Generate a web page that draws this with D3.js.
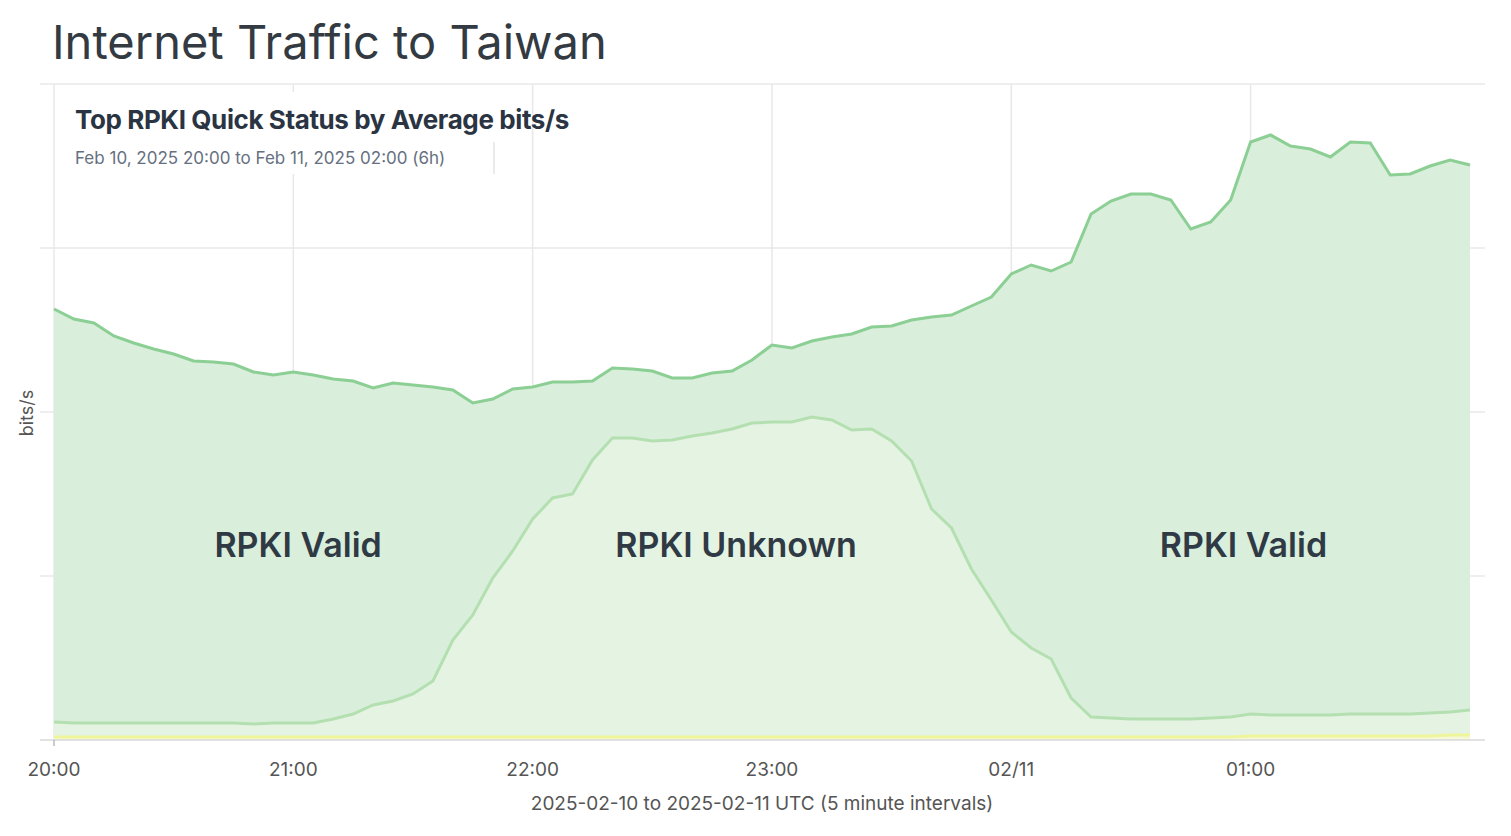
<!DOCTYPE html>
<html>
<head>
<meta charset="utf-8">
<script src="https://cdn.jsdelivr.net/npm/d3@7"></script>
<style>
  body { margin: 0; background: #fff; font-family: Inter, "Noto Sans", sans-serif; }
</style>
</head>
<body>
<div id="wrapper"></div>
<script>
// data (arbitrary bits/s units, 5 minute steps from 2025-02-10 20:00 UTC)
const startTime = new Date(Date.UTC(2025, 1, 10, 20, 0));
const totalTraffic = [431,421,417,404,397,391,386,379,378,376,368,365,368,365,361,359,352,357,355,353,
  350,337,341,351,353,358,358,359,372,371,369,362,362,367,369,380,395,392,399,403,
  406,413,414,420,423,425,434,443,466,475,469,478,526,539,546,546,540,511,518,540,
  598,605,594,591,583,598,597,565,566,574,580,575];
const notValidTraffic = [18,17,17,17,17,17,17,17,17,17,16,17,17,17,21,26,35,39,46,59,
  100,125,162,189,221,242,246,280,302,302,299,300,304,307,311,317,318,318,323,320,
  310,311,299,279,231,212,171,140,108,92,81,42,23,22,21,21,21,21,22,23,
  26,25,25,25,25,26,26,26,26,27,28,30];
const otherTraffic = [3,3,3,3,3,3,3,3,3,3,3,3,3,3,3,3,3,3,3,3,
  3,3,3,3,3,3,3,3,3,3,3,3,3,3,3,3,3,3,3,3,
  3,3,3,3,3,3,3,3,3,3,3,3,3,3,3,3,3,3,3,3,
  4,4,4,4,4,4,4,4,4,4,5,5];
const xTickLabels = ["20:00", "21:00", "22:00", "23:00", "02/11", "01:00"];
const areaLabels = [
  { text: "RPKI Valid", hour: 1.02 },
  { text: "RPKI Unknown", hour: 2.85 },
  { text: "RPKI Valid", hour: 4.97 }
];

const data = totalTraffic.map((t, i) => ({
  date: new Date(startTime.getTime() + i * 5 * 60000),
  other: otherTraffic[i],
  unknown: notValidTraffic[i] - otherTraffic[i],
  valid: t - notValidTraffic[i]
}));

// dimensions
const dms = { width: 1511, height: 836, left: 54, right: 1470, top: 84, bottom: 740 };

const svg = d3.select("#wrapper").append("svg")
  .attr("width", dms.width).attr("height", dms.height)
  .style("font-family", "Inter, 'Noto Sans', sans-serif");

// scales
const xScale = d3.scaleTime()
  .domain([data[0].date, data[data.length - 1].date])
  .range([dms.left, dms.right]);
const yScale = d3.scaleLinear().domain([0, 656]).range([dms.bottom, dms.top]);

// grid
svg.append("g").selectAll("line").data([164, 328, 492, 656]).join("line")
  .attr("x1", 40).attr("x2", 1485)
  .attr("y1", d => yScale(d)).attr("y2", d => yScale(d))
  .attr("stroke", "#e8e8e8").attr("stroke-width", 1.5);

const hourTicks = xTickLabels.map((_, i) => new Date(startTime.getTime() + i * 3600000));
svg.append("g").selectAll("line").data(hourTicks).join("line")
  .attr("x1", d => xScale(d)).attr("x2", d => xScale(d))
  .attr("y1", dms.top).attr("y2", dms.bottom)
  .attr("stroke", "#e8e8e8").attr("stroke-width", 1.5);

// stacked areas
const stack = d3.stack().keys(["other", "unknown", "valid"]);
const series = stack(data);
const fills = { other: "#f6f9d8", unknown: "#e5f3e3", valid: "#d9eedb" };
const strokes = { other: "#eef59a", unknown: "#b4e0b1", valid: "#8ccf94" };

const area = d3.area().x(d => xScale(d.data.date)).y0(d => yScale(d[0])).y1(d => yScale(d[1]));
const line = d3.line().x(d => xScale(d.data.date)).y(d => yScale(d[1]));

svg.append("g").selectAll("path").data(series).join("path")
  .attr("d", area).attr("fill", d => fills[d.key]);
svg.append("g").selectAll("path").data(series).join("path")
  .attr("d", line).attr("fill", "none")
  .attr("stroke", d => strokes[d.key]).attr("stroke-width", 3);

// baseline + x axis
svg.append("line").attr("x1", 40).attr("x2", 1485)
  .attr("y1", dms.bottom).attr("y2", dms.bottom)
  .attr("stroke", "#d8d8d8").attr("stroke-width", 1.5);
svg.append("line").attr("x1", dms.left).attr("x2", dms.left)
  .attr("y1", dms.bottom).attr("y2", dms.bottom + 6).attr("stroke", "#999");

svg.append("g").selectAll("text").data(hourTicks).join("text")
  .attr("x", d => xScale(d)).attr("y", 776)
  .attr("text-anchor", "middle").attr("font-size", 19).attr("fill", "#555")
  .text((d, i) => xTickLabels[i]);

svg.append("text").attr("x", 762).attr("y", 810).attr("text-anchor", "middle")
  .attr("font-size", 19).attr("fill", "#555")
  .text("2025-02-10 to 2025-02-11 UTC (5 minute intervals)");

svg.append("text").attr("transform", "translate(33,413) rotate(-90)")
  .attr("text-anchor", "middle").attr("font-size", 18).attr("fill", "#555").text("bits/s");

// area labels
svg.append("g").selectAll("text").data(areaLabels).join("text")
  .attr("x", d => xScale(new Date(startTime.getTime() + d.hour * 3600000)))
  .attr("y", 557).attr("text-anchor", "middle")
  .attr("font-size", 34).attr("font-weight", 600).attr("fill", "#2f3a45")
  .text(d => d.text);

// header box
svg.append("rect").attr("x", 55).attr("y", 92).attr("width", 439).attr("height", 82).attr("fill", "#fff");
svg.append("line").attr("x1", 494).attr("x2", 494).attr("y1", 142).attr("y2", 174)
  .attr("stroke", "#e3e3e3").attr("stroke-width", 1.5);
svg.append("text").attr("x", 75).attr("y", 129)
  .attr("font-size", 26).attr("font-weight", 700).attr("fill", "#2a3442")
  .attr("letter-spacing", -0.4)
  .text("Top RPKI Quick Status by Average bits/s");
svg.append("text").attr("x", 75).attr("y", 164)
  .attr("font-size", 17).attr("fill", "#667080")
  .text("Feb 10, 2025 20:00 to Feb 11, 2025 02:00 (6h)");

// title
svg.append("text").attr("x", 52).attr("y", 59)
  .attr("font-size", 47).attr("fill", "#333a42")
  .text("Internet Traffic to Taiwan");
</script>
</body>
</html>
